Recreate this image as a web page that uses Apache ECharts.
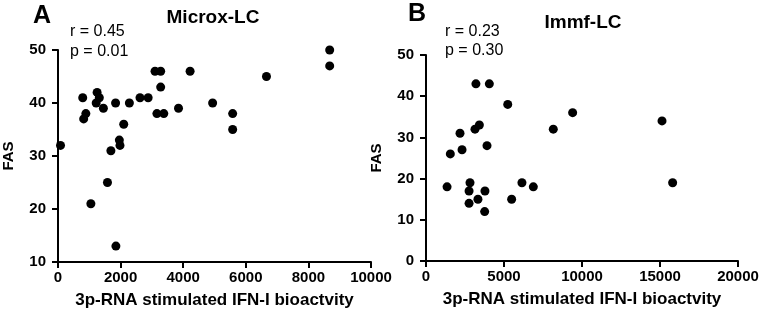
<!DOCTYPE html>
<html>
<head>
<meta charset="utf-8">
<script src="https://cdn.jsdelivr.net/npm/echarts@6/dist/echarts.min.js"></script>
<style>
  html, body { margin: 0; padding: 0; background: #fff; }
  #wrap { position: relative; width: 762px; height: 320px; }
  #chart { width: 762px; height: 320px; }
  .t { position: absolute; color: #000; font-family: "Liberation Sans", Arial, sans-serif; line-height: 1; white-space: nowrap; }
  .big { font-size: 25px; font-weight: bold; }
  .head { font-size: 19px; font-weight: bold; transform: translateX(-50%); }
  .stat { font-size: 16px; }
</style>
</head>
<body>
<div id="wrap">
  <div id="chart"></div>
  <div class="t big" style="left:33px; top:2px;">A</div>
  <div class="t head" style="left:213px; top:7px;">Microx-LC</div>
  <div class="t stat" style="left:70px; top:23px;">r = 0.45</div>
  <div class="t stat" style="left:70px; top:43px;">p = 0.01</div>
  <div class="t big" style="left:408px; top:0px;">B</div>
  <div class="t head" style="left:583px; top:12px;">Immf-LC</div>
  <div class="t stat" style="left:445px; top:23px;">r = 0.23</div>
  <div class="t stat" style="left:445px; top:42px;">p = 0.30</div>
</div>
<script>
// panel A: Microx-LC
var microxX = [80, 790, 820, 890, 1050, 1220, 1250, 1320, 1450, 1580, 1690, 1840,
  1850, 1960, 1980, 2100, 2280, 2620, 2880, 3100, 3160, 3280, 3280, 3380,
  3850, 4220, 4940, 5580, 5580, 6660, 8680, 8680];
var microxY = [32, 41, 37, 38, 21, 40, 42, 41, 39, 25, 31, 40,
  13, 33, 32, 36, 40, 41, 41, 46, 38, 46, 43, 38,
  39, 46, 40, 38, 35, 45, 50, 47];

// panel B: Immf-LC
var immfX = [1350, 1560, 2180, 2310, 2760, 2760, 2820, 3140, 3200, 3330, 3420, 3760,
  3780, 3910, 4060, 5240, 5490, 6150, 6880, 8160, 9400, 15130, 15810];
var immfY = [18, 26, 31, 27, 17, 14, 19, 32, 43, 15, 33, 12,
  17, 28, 43, 38, 15, 19, 18, 32, 36, 34, 19];

// [min, max, interval]
var xTicksA = [0, 10000, 2000];
var yTicksA = [10, 50, 10];
var xTicksB = [0, 20000, 5000];
var yTicksB = [0, 50, 10];

(function () {
  function toPoints(xs, ys) {
    return xs.map(function (x, i) { return [x, ys[i]]; });
  }

  function makeAxis(idx, t, isX) {
    var o = {
      type: "value",
      gridIndex: idx,
      min: t[0],
      max: t[1],
      interval: t[2],
      name: isX ? "3p-RNA stimulated IFN-I bioactvity" : "FAS",
      nameLocation: "middle",
      nameGap: isX ? 30 : 42,
      nameTextStyle: { color: "#000", fontWeight: "bold", fontSize: isX ? 17 : 15 },
      axisLine: { show: true, lineStyle: { color: "#000", width: 2 } },
      axisTick: { show: true, length: 6, lineStyle: { color: "#000", width: 2 } },
      axisLabel: {
        margin: isX ? 8 : 12,
        color: "#000",
        fontWeight: "bold",
        fontSize: 15,
        formatter: function (v) { return String(v); }
      },
      splitLine: { show: false }
    };
    if (!isX) o.nameRotate = 90;
    return o;
  }

  var chart = echarts.init(document.getElementById("chart"));
  chart.setOption({
    animation: false,
    grid: [
      { left: 54, top: 50, width: 317, height: 212 },
      { left: 426, top: 55, width: 312, height: 206 }
    ],
    xAxis: [makeAxis(0, xTicksA, true), makeAxis(1, xTicksB, true)],
    yAxis: [makeAxis(0, yTicksA, false), makeAxis(1, yTicksB, false)],
    series: [
      { type: "scatter", xAxisIndex: 0, yAxisIndex: 0, symbolSize: 9,
        itemStyle: { color: "#000", opacity: 1 }, data: toPoints(microxX, microxY) },
      { type: "scatter", xAxisIndex: 1, yAxisIndex: 1, symbolSize: 9,
        itemStyle: { color: "#000", opacity: 1 }, data: toPoints(immfX, immfY) }
    ]
  });
})();
</script>
</body>
</html>
